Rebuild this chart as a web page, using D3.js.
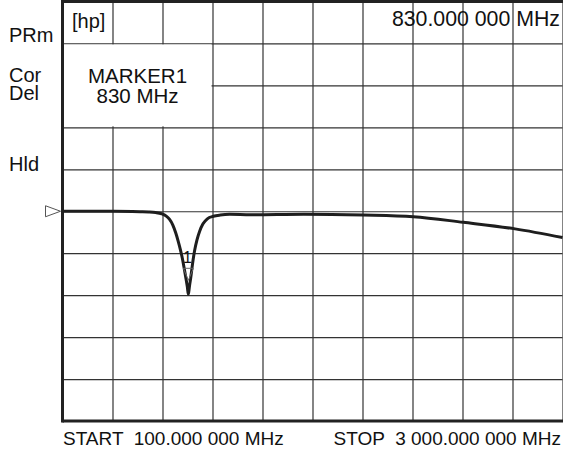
<!DOCTYPE html>
<html>
<head>
<meta charset="utf-8">
<script src="https://cdn.jsdelivr.net/npm/d3@7"></script>
<style>
  body { margin: 0; background: #fff; }
  svg text { font-family: "Liberation Sans", Arial, sans-serif; fill: #111; }
</style>
</head>
<body>
<div id="chart"></div>
<script>

// Trace data (MHz, dB relative to reference level)
var freqs = [100, 250, 400, 550, 600, 640, 675, 700, 720, 740, 757, 770, 784, 795, 805, 816, 824, 830,
             836, 844, 854, 866, 880, 895, 915, 940, 975, 1015, 1070, 1190, 1500, 1845, 2135, 2425, 2725, 3000];
var levels = [0, 0, 0, -0.05, -0.08, -0.15, -0.3, -0.55, -0.95, -1.65, -2.6, -3.5, -4.6, -5.6, -6.7, -8.0, -9.0, -9.9,
              -9.0, -7.9, -6.3, -4.7, -3.4, -2.4, -1.5, -0.9, -0.6, -0.45, -0.37, -0.42, -0.35, -0.45, -0.65, -1.32, -2.1, -3.13];

// grid divisions
var xTicks = [100, 390, 680, 970, 1260, 1550, 1840, 2130, 2420, 2710, 3000];
var yTicks = [-25, -20, -15, -10, -5, 0, 5, 10, 15, 20, 25];

var refLevel = 0;
var markerFreq = 830;
var markerLevel = -9.9;

var sideLabels = [
    {text: "PRm", y: 42},
    {text: "Cor", y: 82},
    {text: "Del", y: 100},
    {text: "Hld", y: 171}
];

var W = 563, H = 451;
var mLeft = 62.5, mRight = 562.5, mTop = 1.5, mBottom = 421;

var svg = d3.select("#chart").append("svg")
    .attr("width", W)
    .attr("height", H);

svg.append("rect").attr("width", W).attr("height", H).attr("fill", "#fff");

var x = d3.scaleLinear().domain([100, 3000]).range([mLeft, mRight]);
var y = d3.scaleLinear().domain([-25, 25]).range([mBottom, mTop]);

// grid
var gx = svg.append("g")
    .attr("transform", "translate(0," + mBottom + ")")
    .call(d3.axisBottom(x).tickValues(xTicks).tickSize(-(mBottom - mTop)).tickFormat(""));
var gy = svg.append("g")
    .attr("transform", "translate(" + mLeft + ",0)")
    .call(d3.axisLeft(y).tickValues(yTicks).tickSize(-(mRight - mLeft)).tickFormat(""));
[gx, gy].forEach(function(g) {
    g.select(".domain").remove();
    g.selectAll(".tick line").attr("stroke", "#333").attr("stroke-width", 1.2);
});

// marker info box hides the grid behind it
svg.append("rect")
    .attr("x", x(xTicks[0]) + 1)
    .attr("y", y(yTicks[9]) + 1)
    .attr("width", x(xTicks[3]) - x(xTicks[0]) - 2)
    .attr("height", y(yTicks[7]) - y(yTicks[9]) - 2)
    .attr("fill", "#fff");

// frame
svg.append("line").attr("x1", mLeft).attr("x2", mLeft).attr("y1", 0).attr("y2", mBottom + 1.5)
    .attr("stroke", "#222").attr("stroke-width", 3);
svg.append("line").attr("x1", mLeft).attr("x2", W).attr("y1", mBottom).attr("y2", mBottom)
    .attr("stroke", "#222").attr("stroke-width", 3);
svg.append("line").attr("x1", mLeft).attr("x2", W).attr("y1", mTop).attr("y2", mTop)
    .attr("stroke", "#222").attr("stroke-width", 3);

// trace
var data = freqs.map(function(f, i) { return {f: f, v: levels[i]}; });
var line = d3.line()
    .x(function(d) { return x(d.f); })
    .y(function(d) { return y(d.v); })
    .curve(d3.curveMonotoneX);

svg.append("path")
    .datum(data)
    .attr("fill", "none")
    .attr("stroke", "#1e1e1e")
    .attr("stroke-width", 3)
    .attr("stroke-linejoin", "round")
    .attr("d", line);

// reference level pointer
var ry = y(refLevel);
svg.append("path")
    .attr("d", "M" + (mLeft - 17) + "," + (ry - 5.5) + "L" + (mLeft - 2) + "," + ry + "L" + (mLeft - 17) + "," + (ry + 5.5) + "Z")
    .attr("fill", "#fff")
    .attr("stroke", "#555")
    .attr("stroke-width", 1);

// marker 1
var mx = x(markerFreq), my = y(markerLevel);
svg.append("path")
    .attr("d", "M" + (mx - 5) + "," + (my - 26) + "L" + (mx + 5) + "," + (my - 26) + "L" + mx + "," + (my - 14) + "Z")
    .attr("fill", "none")
    .attr("stroke", "#666")
    .attr("stroke-width", 1);
svg.append("text")
    .attr("x", mx - 1).attr("y", my - 31)
    .attr("text-anchor", "middle")
    .style("font-size", "16px")
    .text("1");

// texts
svg.selectAll(".side").data(sideLabels).enter().append("text")
    .attr("class", "side")
    .attr("x", 9).attr("y", function(d) { return d.y; })
    .style("font-size", "20px")
    .text(function(d) { return d.text; });

svg.append("text").attr("x", 72).attr("y", 28).style("font-size", "20px").text("[hp]");

svg.append("text").attr("x", 560).attr("y", 26).attr("text-anchor", "end")
    .style("font-size", "21.3px").text("830.000 000 MHz");

svg.append("text").attr("x", 137.5).attr("y", 83).attr("text-anchor", "middle")
    .style("font-size", "20.5px").text("MARKER1");
svg.append("text").attr("x", 137.5).attr("y", 103).attr("text-anchor", "middle")
    .style("font-size", "20.5px").text("830 MHz");

svg.append("text").attr("x", 63).attr("y", 445).style("font-size", "19px")
    .attr("xml:space", "preserve").text("START  100.000 000 MHz");
svg.append("text").attr("x", 561).attr("y", 445).attr("text-anchor", "end").style("font-size", "19px")
    .attr("xml:space", "preserve").text("STOP  3 000.000 000 MHz");

</script>
</body>
</html>
